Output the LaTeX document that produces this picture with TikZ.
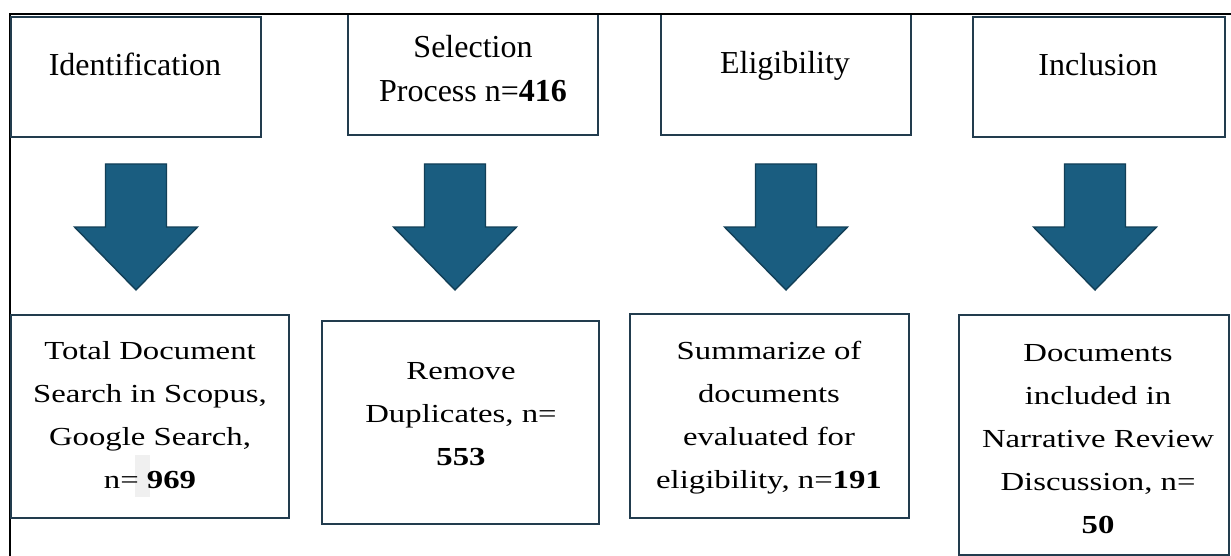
\documentclass[tikz,border=0pt]{standalone}
\usepackage{fontspec}
\setmainfont{Liberation Serif}
\newfontfamily\wideserif[FakeStretch=1.26]{Liberation Serif}
\definecolor{boxline}{HTML}{223C4E}
\definecolor{arrowfill}{HTML}{1A5D80}
\definecolor{arrowline}{HTML}{123F57}
\definecolor{hilite}{HTML}{F0F0F0}
\begin{document}
\begin{tikzpicture}[x=1pt,y=-1pt,
  frameline/.style={line width=2pt, draw=black},
  headbox/.style={draw=boxline, line width=2pt, fill=white, inner sep=0pt, outer sep=0pt},
  bodybox/.style={draw=boxline, line width=2.8pt, fill=white, inner sep=0pt, outer sep=0pt},
  headtext/.style={inner sep=0pt, anchor=base, align=center, font=\fontsize{32}{44}\selectfont},
  bodytext/.style={inner sep=0pt, anchor=base, align=center, font=\wideserif\fontsize{26}{43}\selectfont},
  downarrow/.pic={\filldraw[fill=arrowfill, draw=arrowline, line width=1.4pt, line join=miter]
     (-30.5,0) -- (30.5,0) -- (30.5,63) -- (61.5,63) -- (0,126) -- (-61.5,63) -- (-30.5,63) -- cycle;}
]
\useasboundingbox (0,0) rectangle (1231,556);
\fill[white] (0,0) rectangle (1231,556);
% outer frame
\coordinate (fTL) at (10,14);
\coordinate (fTR) at (1231,14);
\coordinate (fBL) at (10,556);
\draw[frameline] (fTR) -- (fTL) -- (fBL);
% top boxes
\node[headbox, minimum width=250pt, minimum height=120pt] (h1) at (136,77) {};
\node[headbox, minimum width=250pt, minimum height=121pt] (h2) at (473,74.5) {};
\node[headbox, minimum width=250pt, minimum height=121pt] (h3) at (786,74.5) {};
\node[headbox, minimum width=252pt, minimum height=120pt] (h4) at (1099,77) {};
\draw[frameline] (fTR) -- (fTL);
\node[headtext] (t1) at (135,76) {Identification};
\node[headtext] (t2) at (473,102) {Selection\\Process n=\textbf{416}};
\node[headtext] (t3) at (785,74) {Eligibility};
\node[headtext] (t4) at (1098,76) {Inclusion};
% arrows
\pic (a1) at (136,164) {downarrow};
\pic (a2) at (455,164) {downarrow};
\pic (a3) at (786,164) {downarrow};
\pic (a4) at (1095,164) {downarrow};
% bottom boxes
\node[bodybox, minimum width=278pt, minimum height=203pt] (b1) at (150,416.5) {};
\node[bodybox, minimum width=277pt, minimum height=203pt] (b2) at (460.5,422.5) {};
\node[bodybox, minimum width=279pt, minimum height=204pt] (b3) at (769.5,416) {};
\node[bodybox, minimum width=270pt, minimum height=240pt] (b4) at (1094,435) {};
\fill[hilite] (135,455) rectangle (150,497);
\node[bodytext] (s1) at (150,488) {Total Document\\Search in Scopus,\\Google Search,\\n= \textbf{969}};
\node[bodytext] (s2) at (461,465) {Remove\\Duplicates, n=\\\textbf{553}};
\node[bodytext] (s3) at (769,488) {Summarize of\\documents\\evaluated for\\eligibility, n=\textbf{191}};
\node[bodytext] (s4) at (1098,533) {Documents\\included in\\Narrative Review\\Discussion, n=\\\textbf{50}};
\end{tikzpicture}
\end{document}
